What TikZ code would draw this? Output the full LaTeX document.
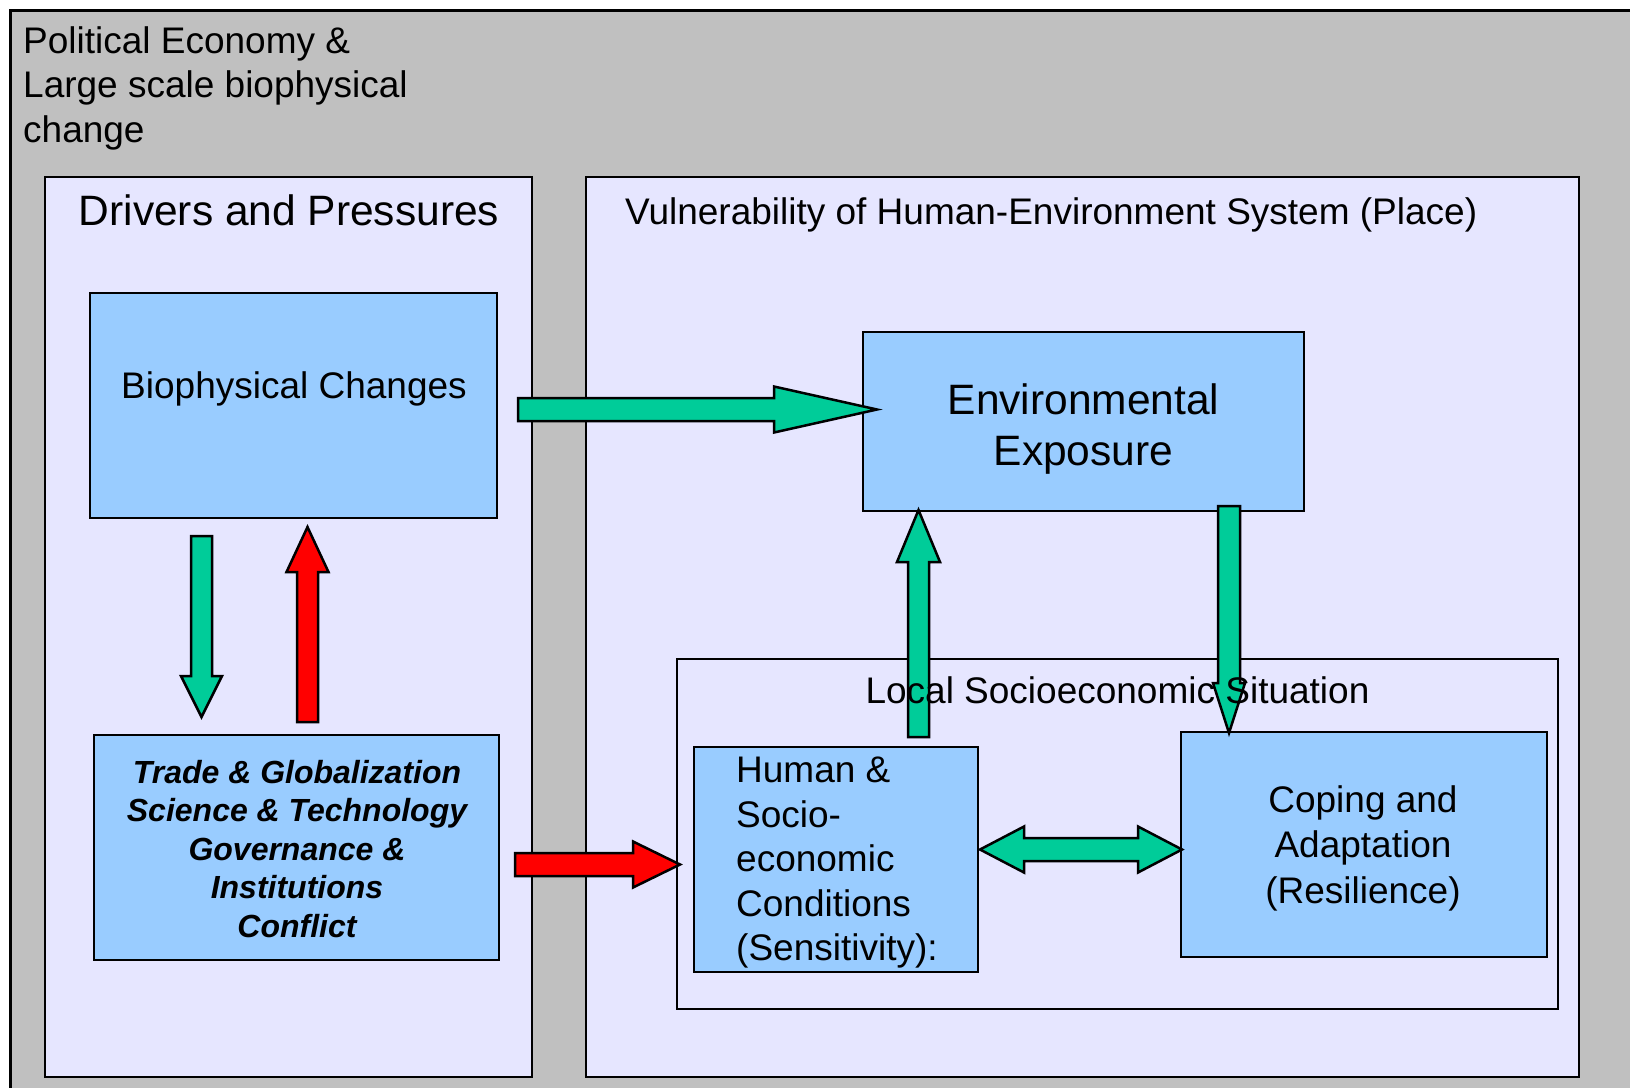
\documentclass[tikz,border=0pt]{standalone}
\usepackage{fontspec}
\setmainfont{Liberation Sans}
\usetikzlibrary{calc}

\definecolor{bgrey}{HTML}{C0C0C0}
\definecolor{lav}{HTML}{E6E6FF}
\definecolor{sky}{HTML}{99CCFF}
\definecolor{mint}{HTML}{00CC99}
\definecolor{alarm}{HTML}{FF0000}

\begin{document}
\begin{tikzpicture}
    [
        x=1pt, y=-1pt,
        panel/.style = {draw, shape=rectangle, fill=lav, line width=2.5pt, inner sep=0pt, outer sep=0pt},
        block/.style = {draw, shape=rectangle, fill=sky, line width=2.5pt, inner sep=0pt, outer sep=0pt},
        txt/.style = {inner sep=0pt, font=\fontsize{37}{44.5}\selectfont},
        big/.style = {inner sep=0pt, font=\fontsize{42.5}{51}\selectfont},
        drv/.style = {inner sep=0pt, font=\fontsize{32}{38.5}\selectfont\bfseries\itshape},
        fat/.style n args = {3}{draw, line width=2.5pt, line join=miter,
            to path={let \p1=(\tikztostart), \p2=(\tikztotarget),
                \n1={veclen(\x2-\x1,\y2-\y1)}, \n2={atan2(\y2-\y1,\x2-\x1)} in
                [shift={(\p1)}, rotate=\n2] (0,#1) -- ({\n1-#3},#1) -- ({\n1-#3},#2) -- (\n1,0)
                -- ({\n1-#3},-#2) -- ({\n1-#3},-#1) -- (0,-#1) -- cycle}},
        fatboth/.style n args = {3}{draw, line width=2.5pt, line join=miter,
            to path={let \p1=(\tikztostart), \p2=(\tikztotarget),
                \n1={veclen(\x2-\x1,\y2-\y1)}, \n2={atan2(\y2-\y1,\x2-\x1)} in
                [shift={(\p1)}, rotate=\n2] (0,0) -- (#3,#2) -- (#3,#1) -- ({\n1-#3},#1) -- ({\n1-#3},#2)
                -- (\n1,0) -- ({\n1-#3},-#2) -- ({\n1-#3},-#1) -- (#3,-#1) -- (#3,-#2) -- cycle}},
    ]

    \useasboundingbox (0,0) rectangle (1630,1087);
    \clip (0,0) rectangle (1630,1087);

    % outer frame
    \node[draw, fill=bgrey, line width=3pt, inner sep=0pt, outer sep=0pt, minimum width=1680pt, minimum height=1120pt, anchor=north west] (economy) at (10,10) {};
    \node[txt, align=left, anchor=north west] (econtitle) at (23,26) {Political Economy \&\\Large scale biophysical\\change};

    % the two panels
    \node[panel, minimum width=487pt, minimum height=900pt] (drivers) at (288.5,627) {};
    \node[panel, minimum width=993pt, minimum height=900pt] (vuln) at (1082.5,627) {};
    \node[big, anchor=base] (drvtitle) at (289,225) {Drivers and Pressures};
    \node[txt, anchor=base west] (vultitle) at (625,224) {Vulnerability of Human-Environment System (Place)};

    % drivers side
    \node[block, minimum width=407pt, minimum height=225pt] (bio) at (293.5,405.5) {};
    \node[txt, anchor=base] (biotext) at (294,398) {Biophysical Changes};
    \node[block, minimum width=405pt, minimum height=225pt] (trade) at (296.5,847.5) {};
    \node[drv, align=center, anchor=north] (tradetext) at (297,760) {Trade \& Globalization\\Science \& Technology\\Governance \&\\Institutions\\Conflict};

    % place side
    \node[block, minimum width=441pt, minimum height=179pt] (env) at (1083.5,421.5) {};
    \node[big, align=center, anchor=north] (envtext) at (1083.5,383) {Environmental\\Exposure};
    \node[panel, minimum width=881pt, minimum height=350pt] (local) at (1117.5,834) {};
    \node[block, minimum width=284pt, minimum height=225pt] (human) at (836,859.5) {};
    \node[txt, align=left, anchor=north west] (humantext) at (736,757) {Human \&\\Socio-\\economic\\Conditions\\(Sensitivity):};
    \node[block, minimum width=366pt, minimum height=225pt] (coping) at (1364,844.5) {};
    \node[txt, align=center, anchor=north, font=\fontsize{37}{45.5}\selectfont] (copingtext) at (1363,785) {Coping and\\Adaptation\\(Resilience)};

    % block arrows
    \draw[fat={11.5}{23}{103}, fill=mint] ([xshift=21pt,yshift=-4pt]bio.east) to ([xshift=14pt,yshift=12pt]env.west);
    \draw[fat={10.5}{20.5}{41}, fill=mint] ([xshift=-92pt,yshift=-18pt]bio.south) to ([xshift=-95pt,yshift=18pt]trade.north);
    \draw[fat={10.5}{21}{45}, fill=alarm] ([xshift=11pt,yshift=13pt]trade.north) to ([xshift=14pt,yshift=-9pt]bio.south);
    \draw[fat={11.5}{23}{47}, fill=alarm] ([xshift=16pt,yshift=-17pt]trade.east) to ([xshift=-14pt,yshift=-5pt]human.west);
    \draw[fat={10.5}{21.5}{52}, fill=mint] ([xshift=82.5pt,yshift=10pt]human.north) to ([xshift=-165pt,yshift=1pt]env.south);
    \draw[fat={11}{16}{50}, fill=mint] ([xshift=145.5pt,yshift=5pt]env.south) to ([xshift=-135pt,yshift=-1pt]coping.north);
    \draw[fatboth={11.5}{23}{44}, fill=mint] ([xshift=2pt,yshift=10pt]human.east) to ([xshift=1pt,yshift=-5pt]coping.west);

    \node[txt, anchor=base] (localtitle) at (1117.5,703) {Local Socioeconomic Situation};

\end{tikzpicture}
\end{document}
